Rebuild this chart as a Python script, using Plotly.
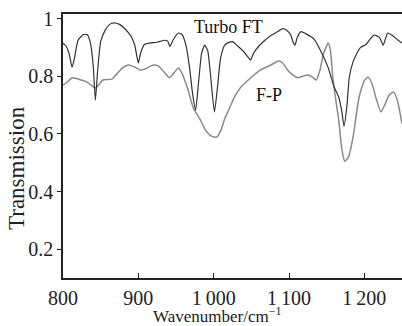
import plotly.graph_objects as go

# Turbo FT spectrum (wavenumber, transmission)
turbo_wn = [800, 804, 808, 812, 815, 820, 827, 832, 836, 840, 843, 846, 850, 856, 862, 868, 875, 882, 890,
            895, 898, 900, 903, 908, 915, 925, 935, 939, 942, 946, 953, 958, 963, 968, 972, 976, 980, 984,
            988, 992, 996, 1001, 1005, 1009, 1014, 1018, 1025, 1032, 1040, 1046, 1049, 1053, 1060, 1068,
            1075, 1082, 1088, 1092, 1097, 1102, 1106, 1108, 1111, 1116, 1122, 1133, 1146, 1152, 1160, 1166,
            1170, 1173, 1177, 1180, 1185, 1189, 1195, 1202, 1208, 1213, 1220, 1225, 1231, 1238, 1245, 1250]
turbo_t = [0.915, 0.905, 0.88, 0.832, 0.86, 0.925, 0.945, 0.945, 0.92, 0.84, 0.717, 0.82, 0.92, 0.96, 0.98,
           0.985, 0.98, 0.965, 0.94, 0.91, 0.87, 0.846, 0.88, 0.91, 0.915, 0.918, 0.925, 0.922, 0.903, 0.925,
           0.95, 0.945, 0.91, 0.83, 0.74, 0.683, 0.78, 0.88, 0.908, 0.89, 0.8, 0.676, 0.76, 0.86, 0.905,
           0.915, 0.92, 0.905, 0.885, 0.865, 0.856, 0.88, 0.905, 0.925, 0.94, 0.95, 0.96, 0.965, 0.96,
           0.945, 0.915, 0.908, 0.935, 0.955, 0.948, 0.93, 0.867, 0.83, 0.762, 0.727, 0.68, 0.627, 0.7,
           0.797, 0.85, 0.874, 0.9, 0.91, 0.93, 0.943, 0.935, 0.908, 0.95, 0.94, 0.925, 0.915]

# F-P spectrum
fp_wn = [800, 806, 812, 818, 824, 830, 837, 843, 848, 853, 865, 872, 879, 887, 895, 902, 909, 916, 921,
         927, 934, 941, 947, 953, 958, 966, 973, 982, 989, 997, 1004, 1010, 1015, 1020, 1028, 1036, 1049,
         1062, 1076, 1086, 1092, 1098, 1105, 1112, 1118, 1125, 1131, 1136, 1141, 1146, 1152, 1155, 1158,
         1162, 1166, 1170, 1174, 1179, 1185, 1193, 1200, 1205, 1210, 1216, 1222, 1227, 1233, 1239, 1244, 1250]
fp_t = [0.769, 0.78, 0.795, 0.792, 0.787, 0.782, 0.77, 0.759, 0.772, 0.787, 0.79, 0.81, 0.829, 0.839,
        0.832, 0.822, 0.825, 0.835, 0.839, 0.835, 0.815, 0.795, 0.81, 0.829, 0.81, 0.752, 0.69, 0.65,
        0.613, 0.592, 0.589, 0.615, 0.655, 0.683, 0.73, 0.762, 0.794, 0.822, 0.839, 0.853, 0.845, 0.822,
        0.805, 0.795, 0.8, 0.804, 0.797, 0.787, 0.82, 0.88, 0.915, 0.89, 0.8, 0.72, 0.648, 0.55, 0.505,
        0.52, 0.589, 0.727, 0.785, 0.797, 0.775, 0.72, 0.676, 0.7, 0.735, 0.745, 0.715, 0.635]

x_ticks = [800, 900, 1000, 1100, 1200]
x_ticktext = ["800", "900", "1\u2009000", "1\u2009100", "1\u2009200"]
y_ticks = [0.2, 0.4, 0.6, 0.8, 1.0]
y_ticktext = ["0.2", "0.4", "0.6", "0.8", "1"]

FONT = "Liberation Serif"

fig = go.Figure()
fig.add_trace(go.Scatter(x=fp_wn, y=fp_t, mode="lines",
                         line=dict(color="#8a8a8a", width=1.5, shape="spline", smoothing=0.5),
                         name="F-P", showlegend=False))
fig.add_trace(go.Scatter(x=turbo_wn, y=turbo_t, mode="lines",
                         line=dict(color="#333333", width=1.2, shape="spline", smoothing=0.5),
                         name="Turbo FT", showlegend=False))

fig.add_annotation(x=1020, y=0.971, text="Turbo FT", showarrow=False,
                   font=dict(family=FONT, size=18, color="#111"))
fig.add_annotation(x=1073, y=0.735, text="F-P", showarrow=False,
                   font=dict(family=FONT, size=18, color="#111"))

fig.add_annotation(x=0, y=0, xref="paper", yref="paper", xanchor="center", yanchor="middle",
                   xshift=154, yshift=-37,
                   text="Wavenumber/cm<sup>\u22121</sup>", showarrow=False,
                   font=dict(family=FONT, size=17, color="#222"))
fig.add_annotation(x=0, y=0, xref="paper", yref="paper", xanchor="center", yanchor="middle",
                   xshift=-47, yshift=110,
                   text="Transmission", textangle=-90, showarrow=False,
                   font=dict(family=FONT, size=23, color="#222"))

fig.update_layout(
    width=402, height=326,
    margin=dict(l=63, r=0, t=14, b=48),
    plot_bgcolor="white", paper_bgcolor="white",
    font=dict(family=FONT, size=20, color="#222"),
)
fig.update_xaxes(range=[800, 1250], showgrid=False, zeroline=False,
                 showline=True, linecolor="#222", linewidth=1.5, mirror=True,
                 ticks="inside", ticklen=5, tickwidth=1.2, tickcolor="#222",
                 tickvals=x_ticks, ticktext=x_ticktext, ticklabelstandoff=1,
                 tickfont=dict(family=FONT, size=20, color="#222"))
fig.update_yaxes(range=[0.1, 1.016], showgrid=False, zeroline=False,
                 showline=True, linecolor="#222", linewidth=1.5,
                 ticks="outside", ticklen=4, tickwidth=1.2, tickcolor="#222",
                 tickvals=y_ticks, ticktext=y_ticktext,
                 tickfont=dict(family=FONT, size=20, color="#222"))

fig.write_html("out.html")
